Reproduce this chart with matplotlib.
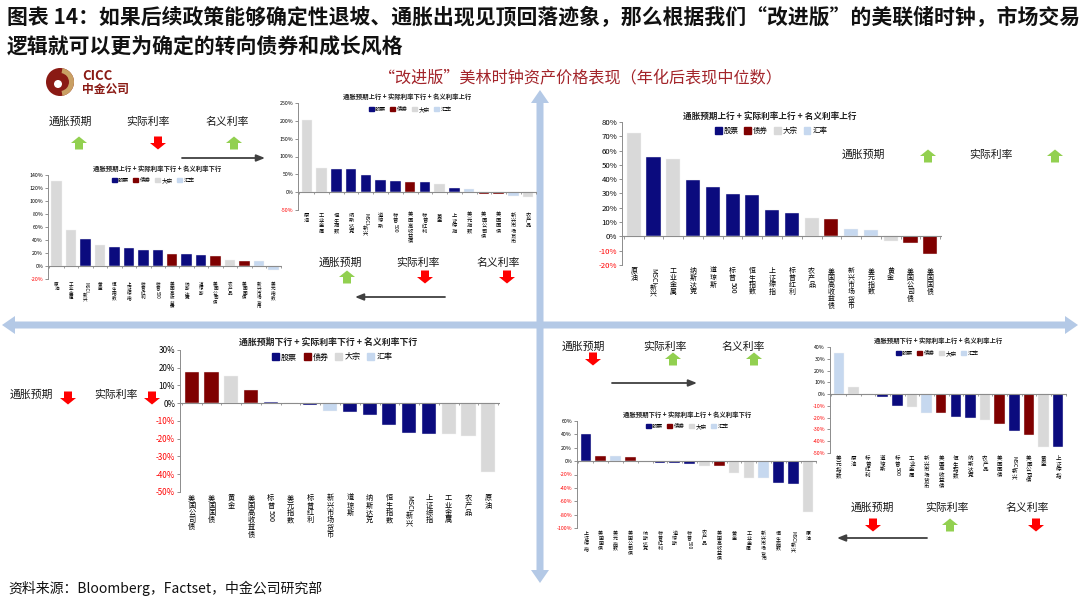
import re
import numpy as np
import matplotlib.pyplot as plt
from matplotlib.patches import Polygon, Circle, Wedge, Patch
from matplotlib.transforms import blended_transform_factory, offset_copy

plt.rcParams['font.family'] = ['Noto Sans CJK SC', 'DejaVu Sans']

W, H = 1080, 603

# asset classes -> colour
stocks = ['MSCI新兴', '纳斯达克', '道琼斯', '标普500', '恒生指数', '上证综指', '标普红利']
bonds = ['美国高收益债', '美国公司债', '美国国债']
commods = ['原油', '工业金属', '农产品', '黄金']
fx = ['美元指数', '新兴市场货币']
class_names = ['股票', '债券', '大宗', '汇率']
class_colors = ['#0b0b7e', '#7f0000', '#d9d9d9', '#c6d8ef']

# 通胀预期上行 + 实际利率下行 + 名义利率下行
tl_title = '通胀预期上行 + 实际利率下行 + 名义利率下行'
tl_cats = ['原油', '工业金属', 'MSCI新兴', '黄金', '恒生指数', '上证综指', '标普红利', '标普500',
           '美国高收益债', '纳斯达克', '道琼斯', '美国公司债', '农产品', '美国国债', '新兴市场货币', '美元指数']
tl_vals = [131, 56, 42, 32, 29.5, 27, 24, 24, 19, 18, 17, 16, 9, 8, 7, -6.6]

# 通胀预期上行 + 实际利率下行 + 名义利率上行
tm_title = '通胀预期上行 + 实际利率下行 + 名义利率上行'
tm_cats = ['原油', '工业金属', '恒生指数', '纳斯达克', 'MSCI新兴', '道琼斯', '标普500', '美国高收益债',
           '标普红利', '黄金', '上证综指', '美元指数', '美国公司债', '美国国债', '新兴市场货币', '农产品']
tm_vals = [203, 69, 65, 65, 47, 34, 31, 28, 28, 21.5, 13, 9, -4, -6.5, -11, -13]

# 通胀预期上行 + 实际利率上行 + 名义利率上行
tr_title = '通胀预期上行 + 实际利率上行 + 名义利率上行'
tr_cats = ['原油', 'MSCI新兴', '工业金属', '纳斯达克', '道琼斯', '标普500', '恒生指数', '上证综指',
           '标普红利', '农产品', '美国高收益债', '新兴市场货币', '美元指数', '黄金', '美国公司债', '美国国债']
tr_vals = [72.6, 55.7, 53.8, 39.2, 34.3, 29.9, 29, 18.6, 16.2, 13.2, 12.3, 5.1, 4.4, -3.5, -4.4, -12.3]

# 通胀预期下行 + 实际利率下行 + 名义利率下行
bl_title = '通胀预期下行 + 实际利率下行 + 名义利率下行'
bl_cats = ['美国公司债', '美国国债', '黄金', '美国高收益债', '标普500', '美元指数', '标普红利', '新兴市场货币',
           '道琼斯', '纳斯达克', '恒生指数', 'MSCI新兴', '上证综指', '工业金属', '农产品', '原油']
bl_vals = [17.6, 17.5, 15.4, 7.2, 0.8, 0.4, -0.9, -4.4, -4.9, -6.5, -12.3, -16.5, -17.5, -17.5, -18.2, -38.5]

# 通胀预期下行 + 实际利率上行 + 名义利率上行
br_title = '通胀预期下行 + 实际利率上行 + 名义利率上行'
br_cats = ['美元指数', '原油', '标普红利', '道琼斯', '标普500', '工业金属', '新兴市场货币', '美国高收益债',
           '恒生指数', '纳斯达克', '农产品', '美国国债', 'MSCI新兴', '美国公司债', '黄金', '上证综指']
br_vals = [35.2, 6.4, -0.3, -2.2, -9.8, -11.2, -15.7, -16.2, -19.6, -20.7, -22.1, -25.2, -31.6, -34.4, -44.8, -44.8]

# 通胀预期下行 + 实际利率上行 + 名义利率下行
bm_title = '通胀预期下行 + 实际利率上行 + 名义利率下行'
bm_cats = ['上证综指', '美国国债', '美元指数', '美国公司债', '纳斯达克', '标普红利', '道琼斯', '标普500',
           '农产品', '美国高收益债', '黄金', '工业金属', '新兴市场货币', '恒生指数', 'MSCI新兴', '原油']
bm_vals = [40.2, 8.4, 7.4, 5.5, -1.5, -2.5, -3.5, -4, -8, -7, -18.3, -24.8, -24.8, -33.2, -34.2, -75.9]

fig = plt.figure(figsize=(W / 100, H / 100), dpi=100)
fig.patch.set_facecolor('white')

bg = fig.add_axes([0, 0, 1, 1], zorder=-1)
bg.set_xlim(0, W)
bg.set_ylim(H, 0)
bg.axis('off')


def px_rect(l, t, r, b):
    return [l / W, 1 - b / H, (r - l) / W, (b - t) / H]


def asset_color(name):
    for group, col in zip([stocks, bonds, commods, fx], class_colors):
        if name in group:
            return col
    return 'gray'


def vertical_label(ax, xpos, label, fs, pad=2):
    # vertical writing: CJK chars upright, latin runs turned 90 degrees
    base = blended_transform_factory(ax.transData, ax.transAxes)
    cursor = pad
    for run in re.findall(r'[A-Za-z0-9]+|.', label):
        if run.isascii():
            size = 0.6 * fs * len(run)
            rot = -90
        else:
            size = 1.0 * fs
            rot = 0
        tr = offset_copy(base, fig=fig, x=0, y=-(cursor + size / 2), units='points')
        ax.text(xpos, 0, run, transform=tr, fontsize=fs, rotation=rot,
                ha='center', va='center', clip_on=False)
        cursor += size


def draw_panel(rect, cats, vals, ylim, ystep, title, title_xy, leg_xy,
               fs_tick, fs_cat, fs_title, fs_leg):
    ax = fig.add_axes(px_rect(*rect))
    ax.set_facecolor('none')
    x = np.arange(len(cats))
    ax.bar(x, vals, width=0.72, color=[asset_color(c) for c in cats],
           edgecolor='#f2f2f2', linewidth=0.3, zorder=2)
    ax.set_xlim(-0.6, len(cats) - 0.4)
    ax.set_ylim(*ylim)
    ticks = np.arange(ylim[0], ylim[1] + 0.1, ystep)
    ax.set_yticks(ticks)
    ax.set_yticklabels([f'{t:.0f}%' for t in ticks], fontsize=fs_tick)
    for lab, t in zip(ax.get_yticklabels(), ticks):
        lab.set_color('red' if t < 0 else 'black')
    ax.tick_params(axis='y', length=2, width=0.6, color='#808080', pad=1.5)
    ax.axhline(0, color='#8c8c8c', lw=0.8, zorder=3)
    # small ticks on the zero line
    tl = (ylim[1] - ylim[0]) * 0.015
    ax.vlines(np.arange(len(cats) + 1) - 0.5, -tl, 0, color='#8c8c8c', lw=0.6, zorder=3)
    ax.set_xticks([])
    for xi, c in zip(x, cats):
        vertical_label(ax, xi, c, fs_cat)
    for s in ['top', 'right', 'bottom']:
        ax.spines[s].set_visible(False)
    ax.spines['left'].set_color('#8c8c8c')
    ax.spines['left'].set_linewidth(0.7)

    bg.text(title_xy[0], title_xy[1], title, fontsize=fs_title, fontweight='bold',
            ha='center', va='center', color='#222222')
    handles = [Patch(color=c, label=n) for n, c in zip(class_names, class_colors)]
    fig.legend(handles=handles, loc='center', bbox_to_anchor=(leg_xy[0] / W, 1 - leg_xy[1] / H),
               ncol=4, frameon=False, fontsize=fs_leg, handlelength=0.9, handleheight=0.9,
               handletextpad=0.25, columnspacing=0.8, borderpad=0, borderaxespad=0)
    return ax


def block_arrow(cx, cy, up, color, w=16, h=13):
    hw = w / 2
    sw = w / 4
    top = cy - h / 2
    mid = cy
    bot = cy + h / 2
    if up:
        pts = [(cx, top), (cx + hw, mid), (cx + sw, mid), (cx + sw, bot),
               (cx - sw, bot), (cx - sw, mid), (cx - hw, mid)]
    else:
        pts = [(cx, bot), (cx + hw, mid), (cx + sw, mid), (cx + sw, top),
               (cx - sw, top), (cx - sw, mid), (cx - hw, mid)]
    bg.add_patch(Polygon(pts, closed=True, color=color, lw=0))


GREEN = '#92d050'
RED = '#ff0000'


def indicator(tx, ty, label, ax_, ay_, up):
    bg.text(tx, ty, label, fontsize=7.8, ha='center', va='center', color='#1a1a1a')
    block_arrow(ax_, ay_, up, GREEN if up else RED)


def line_arrow(x0, x1, y):
    bg.annotate('', xy=(x1, y), xytext=(x0, y),
                arrowprops=dict(arrowstyle='-|>,head_length=0.5,head_width=0.2',
                                color='#404040', lw=1.3, shrinkA=0, shrinkB=0))


# central cross (double-headed light blue arrows)
CROSS = '#b4c9e6'


def double_arrow(p0, p1, th=7, hl=13, hw=18):
    p0 = np.array(p0, float)
    p1 = np.array(p1, float)
    d = (p1 - p0) / np.linalg.norm(p1 - p0)
    n = np.array([-d[1], d[0]])
    a = p0 + d * hl
    b = p1 - d * hl
    pts = [p0, a + n * hw / 2, a + n * th / 2, b + n * th / 2, b + n * hw / 2, p1,
           b - n * hw / 2, b - n * th / 2, a - n * th / 2, a - n * hw / 2]
    bg.add_patch(Polygon(pts, closed=True, color=CROSS, lw=0))


double_arrow((2, 325), (1078, 325))
double_arrow((540, 90), (540, 583))

# titles
bg.text(7, 18, '图表 14：如果后续政策能够确定性退坡、通胀出现见顶回落迹象，那么根据我们“改进版”的美联储时钟，市场交易',
        fontsize=15, fontweight='bold', ha='left', va='center', color='#111111')
bg.text(7, 47, '逻辑就可以更为确定的转向债券和成长风格',
        fontsize=15, fontweight='bold', ha='left', va='center', color='#111111')
bg.text(580, 78, '“改进版”美林时钟资产价格表现（年化后表现中位数）',
        fontsize=11.6, ha='center', va='center', color='#a3242a')
bg.text(8, 588, '资料来源：Bloomberg，Factset，中金公司研究部',
        fontsize=10, ha='left', va='center', color='#111111')

# logo
bg.add_patch(Circle((60, 82), 14, color='#8a1a14', lw=0))
bg.add_patch(Wedge((60, 82), 14, -80, 80, width=5, color='#c9a064', lw=0))
bg.add_patch(Circle((58, 84), 4, color='white', lw=0))
bg.text(82, 76, 'CICC', fontsize=9.5, fontweight='bold', ha='left', va='center', color='#8a1a14')
bg.text(82, 89, '中金公司', fontsize=8.5, fontweight='bold', ha='left', va='center', color='#8a1a14')

# panels
draw_panel((48, 175, 282, 279), tl_cats, tl_vals, (-20, 140), 20, tl_title, (157, 169), (153, 180),
           3.8, 3.3, 4.6, 4.0)
draw_panel((298, 103, 537, 210), tm_cats, tm_vals, (-50, 250), 50, tm_title, (407, 97), (410, 109),
           3.8, 3.8, 4.6, 4.0)
draw_panel((622, 122, 942, 265), tr_cats, tr_vals, (-20, 80), 10, tr_title, (770, 116), (771, 131),
           5.6, 5.0, 6.2, 5.4)
draw_panel((180, 350, 500, 492), bl_cats, bl_vals, (-50, 30), 10, bl_title, (328, 342), (332, 357),
           5.8, 5.2, 6.4, 5.8)
draw_panel((830, 347, 1067, 453), br_cats, br_vals, (-50, 40), 10, br_title, (938, 341), (937, 353),
           3.8, 4.0, 4.6, 4.0)
draw_panel((577, 421, 817, 528), bm_cats, bm_vals, (-100, 60), 20, bm_title, (687, 414), (687, 426),
           3.8, 3.6, 4.6, 4.0)

# indicator labels and arrows
indicator(70, 122, '通胀预期', 79, 143, True)
indicator(148, 122, '实际利率', 158, 143, False)
indicator(227, 122, '名义利率', 234, 143, True)
line_arrow(182, 265, 158)

indicator(340, 263, '通胀预期', 347, 277, True)
indicator(418, 263, '实际利率', 425, 277, False)
indicator(498, 263, '名义利率', 507, 277, False)
line_arrow(445, 355, 297)

indicator(863, 155, '通胀预期', 928, 156, True)
indicator(991, 155, '实际利率', 1055, 156, True)

indicator(31, 395, '通胀预期', 68, 398, False)
indicator(116, 395, '实际利率', 152, 398, False)

indicator(583, 347, '通胀预期', 593, 359, False)
indicator(665, 347, '实际利率', 673, 359, True)
indicator(743, 347, '名义利率', 754, 359, True)
line_arrow(612, 697, 383)

indicator(872, 508, '通胀预期', 873, 525, False)
indicator(947, 508, '实际利率', 950, 525, True)
indicator(1027, 508, '名义利率', 1036, 525, False)
line_arrow(927, 837, 538)

fig.savefig('out.png', dpi=100, facecolor='white')
